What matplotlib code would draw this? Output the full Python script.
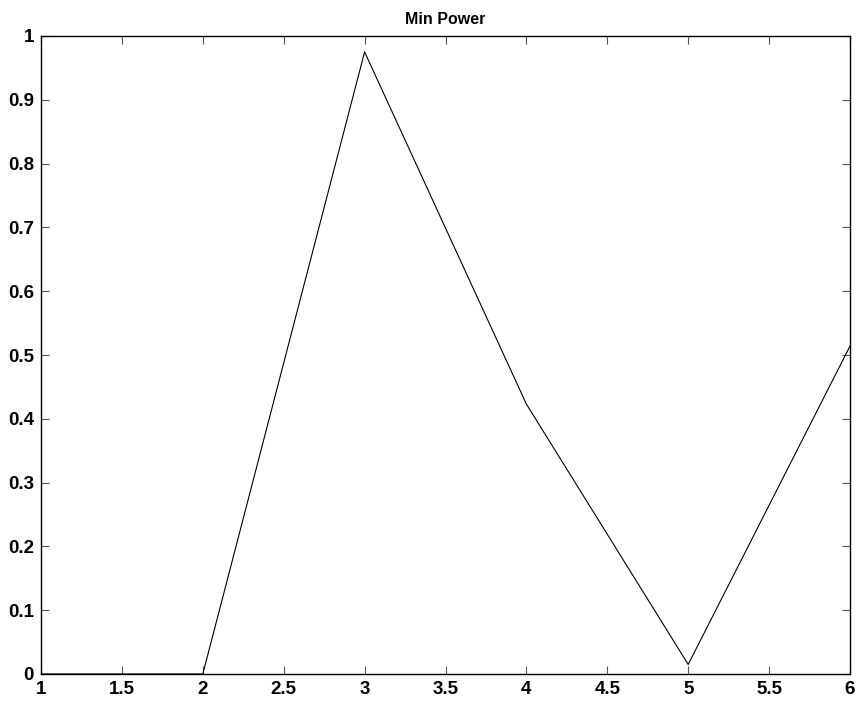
import matplotlib.pyplot as plt

x = [1, 2, 3, 4, 5, 6]
min_power = [0.0, 0.0, 0.975, 0.423, 0.015, 0.514]
xticks = [1, 1.5, 2, 2.5, 3, 3.5, 4, 4.5, 5, 5.5, 6]
yticks = [0, 0.1, 0.2, 0.3, 0.4, 0.5, 0.6, 0.7, 0.8, 0.9, 1]

plt.rcParams['font.family'] = ['Liberation Sans', 'DejaVu Sans']

fig = plt.figure(figsize=(8.58, 7.02), dpi=100)
ax = fig.add_axes([41 / 858, 28 / 702, 809 / 858, 638 / 702])
ax.plot(x, min_power, color='black', linewidth=0.8)
ax.set_xlim(1, 6)
ax.set_ylim(0, 1)
ax.set_xticks(xticks)
ax.set_xticklabels([f'{t:g}' for t in xticks], fontweight='bold', fontsize=13.5)
ax.set_yticks(yticks)
ax.set_yticklabels([f'{t:g}' for t in yticks], fontweight='bold', fontsize=13.5)
ax.tick_params(direction='in', top=True, right=True, length=6, width=0.8, color='#555555', pad=5)
for s in ax.spines.values():
    s.set_linewidth(1.0)
ax.set_title('Min Power', fontsize=11.5, fontweight='bold', pad=9)
fig.savefig('out.png', dpi=100)
